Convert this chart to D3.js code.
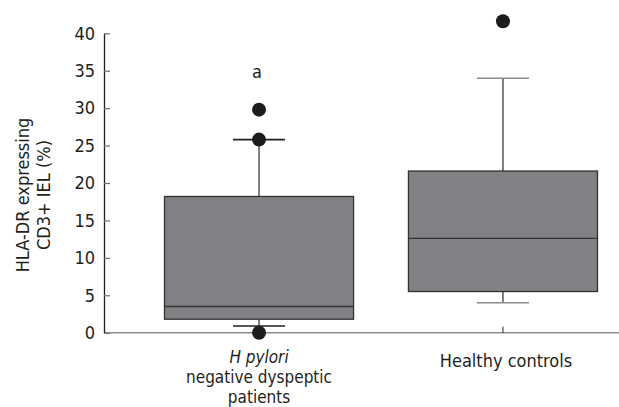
<!DOCTYPE html>
<html>
<head>
<meta charset="utf-8">
<script src="https://cdn.jsdelivr.net/npm/d3@7"></script>
<style>
  html, body { margin: 0; padding: 0; background: #fff; }
  svg { display: block; font-family: "DejaVu Sans Condensed", "DejaVu Sans", Verdana, sans-serif; font-stretch: condensed; }
</style>
</head>
<body>
<svg id="chart" width="619" height="407"></svg>
<script>
// Data
const categories = ["hp", "hc"];
const q1 = [1.8, 5.5];
const medians = [3.5, 12.6];
const q3 = [18.2, 21.6];
const whiskerLow = [0.9, 4.0];
const whiskerHigh = [25.8, 34.0];
const outliers = [[29.8, 25.8, 0], [41.6]];
const capColors = ["#231f20", "#8a8a8a"];
const yTicks = [0, 5, 10, 15, 20, 25, 30, 35, 40];

const svg = d3.select("#chart");
const textColor = "#231f20";
const FONT = "'DejaVu Sans Condensed', 'DejaVu Sans', Verdana, sans-serif";
const FS = "18px";

const y = d3.scaleLinear().domain([0, 40]).range([332.7, 33.3]);
const x = d3.scaleBand().domain(categories).range([164.5, 597.5]).paddingInner(0.225).paddingOuter(0);
const cx = c => x(c) + x.bandwidth() / 2;

// x axis line
svg.append("line")
  .attr("x1", 104).attr("x2", 619)
  .attr("y1", y(0)).attr("y2", y(0))
  .attr("stroke", "#8a8a8a").attr("stroke-width", 1.5);

// x tick (upward)
svg.selectAll(".xtick").data(categories).enter().append("line")
  .attr("x1", d => cx(d)).attr("x2", d => cx(d))
  .attr("y1", y(0)).attr("y2", y(0) - 6)
  .attr("stroke", textColor).attr("stroke-width", 1);

// y axis
const yAxis = d3.axisLeft(y).tickValues(yTicks).tickSize(-6).tickPadding(9).tickSizeOuter(0);
const gy = svg.append("g").attr("transform", "translate(104,0)").call(yAxis);
gy.select(".domain").attr("stroke", textColor).attr("stroke-width", 1.3);
gy.selectAll(".tick line").attr("stroke", "#6d6e70").attr("stroke-width", 1.2);
gy.selectAll(".tick text")
  .attr("fill", textColor)
  .style("font-size", FS)
  .style("font-family", FONT);

// boxes
const groups = svg.selectAll(".box").data(categories).enter().append("g");
groups.each(function(c, i) {
  const g = d3.select(this);
  const xc = cx(c);
  const capW = 52;
  g.append("line").attr("x1", xc).attr("x2", xc)
    .attr("y1", y(q3[i])).attr("y2", y(whiskerHigh[i]))
    .attr("stroke", "#3a3a3a").attr("stroke-width", 1.3);
  g.append("line").attr("x1", xc).attr("x2", xc)
    .attr("y1", y(q1[i])).attr("y2", y(whiskerLow[i]))
    .attr("stroke", "#3a3a3a").attr("stroke-width", 1.3);
  g.append("line").attr("x1", xc - capW / 2).attr("x2", xc + capW / 2)
    .attr("y1", y(whiskerHigh[i])).attr("y2", y(whiskerHigh[i]))
    .attr("stroke", capColors[i]).attr("stroke-width", 1.6);
  g.append("line").attr("x1", xc - capW / 2).attr("x2", xc + capW / 2)
    .attr("y1", y(whiskerLow[i])).attr("y2", y(whiskerLow[i]))
    .attr("stroke", capColors[i]).attr("stroke-width", 1.6);
  g.append("rect")
    .attr("x", x(c)).attr("width", x.bandwidth())
    .attr("y", y(q3[i])).attr("height", y(q1[i]) - y(q3[i]))
    .attr("fill", "#808184").attr("stroke", "#333").attr("stroke-width", 1.3);
  g.append("line").attr("x1", x(c)).attr("x2", x(c) + x.bandwidth())
    .attr("y1", y(medians[i])).attr("y2", y(medians[i]))
    .attr("stroke", "#333").attr("stroke-width", 1.3);
  g.selectAll("circle").data(outliers[i]).enter().append("circle")
    .attr("cx", xc).attr("cy", d => y(d)).attr("r", 7)
    .attr("fill", "#1f1c1d");
});

// significance mark
svg.append("text").attr("x", cx("hp") - 2).attr("y", 78)
  .attr("text-anchor", "middle").attr("fill", textColor)
  .style("font-size", FS).text("a");

// x labels
const xl1 = svg.append("text").attr("text-anchor", "middle").attr("fill", textColor).style("font-size", "17px");
xl1.append("tspan").attr("x", cx("hp")).attr("y", 363).style("font-style", "italic").text("H pylori");
xl1.append("tspan").attr("x", cx("hp")).attr("y", 383).text("negative dyspeptic");
xl1.append("tspan").attr("x", cx("hp")).attr("y", 402.5).text("patients");
svg.append("text").attr("x", cx("hc") + 3).attr("y", 367)
  .attr("text-anchor", "middle").attr("fill", textColor)
  .style("font-size", FS).text("Healthy controls");

// y label
const yl = svg.append("text").attr("transform", "translate(0,195) rotate(-90)")
  .attr("text-anchor", "middle").attr("fill", textColor).style("font-size", FS);
yl.append("tspan").attr("x", 0).attr("y", 28.5).text("HLA-DR expressing");
yl.append("tspan").attr("x", 0).attr("y", 50).text("CD3+ IEL (%)");
</script>
</body>
</html>
